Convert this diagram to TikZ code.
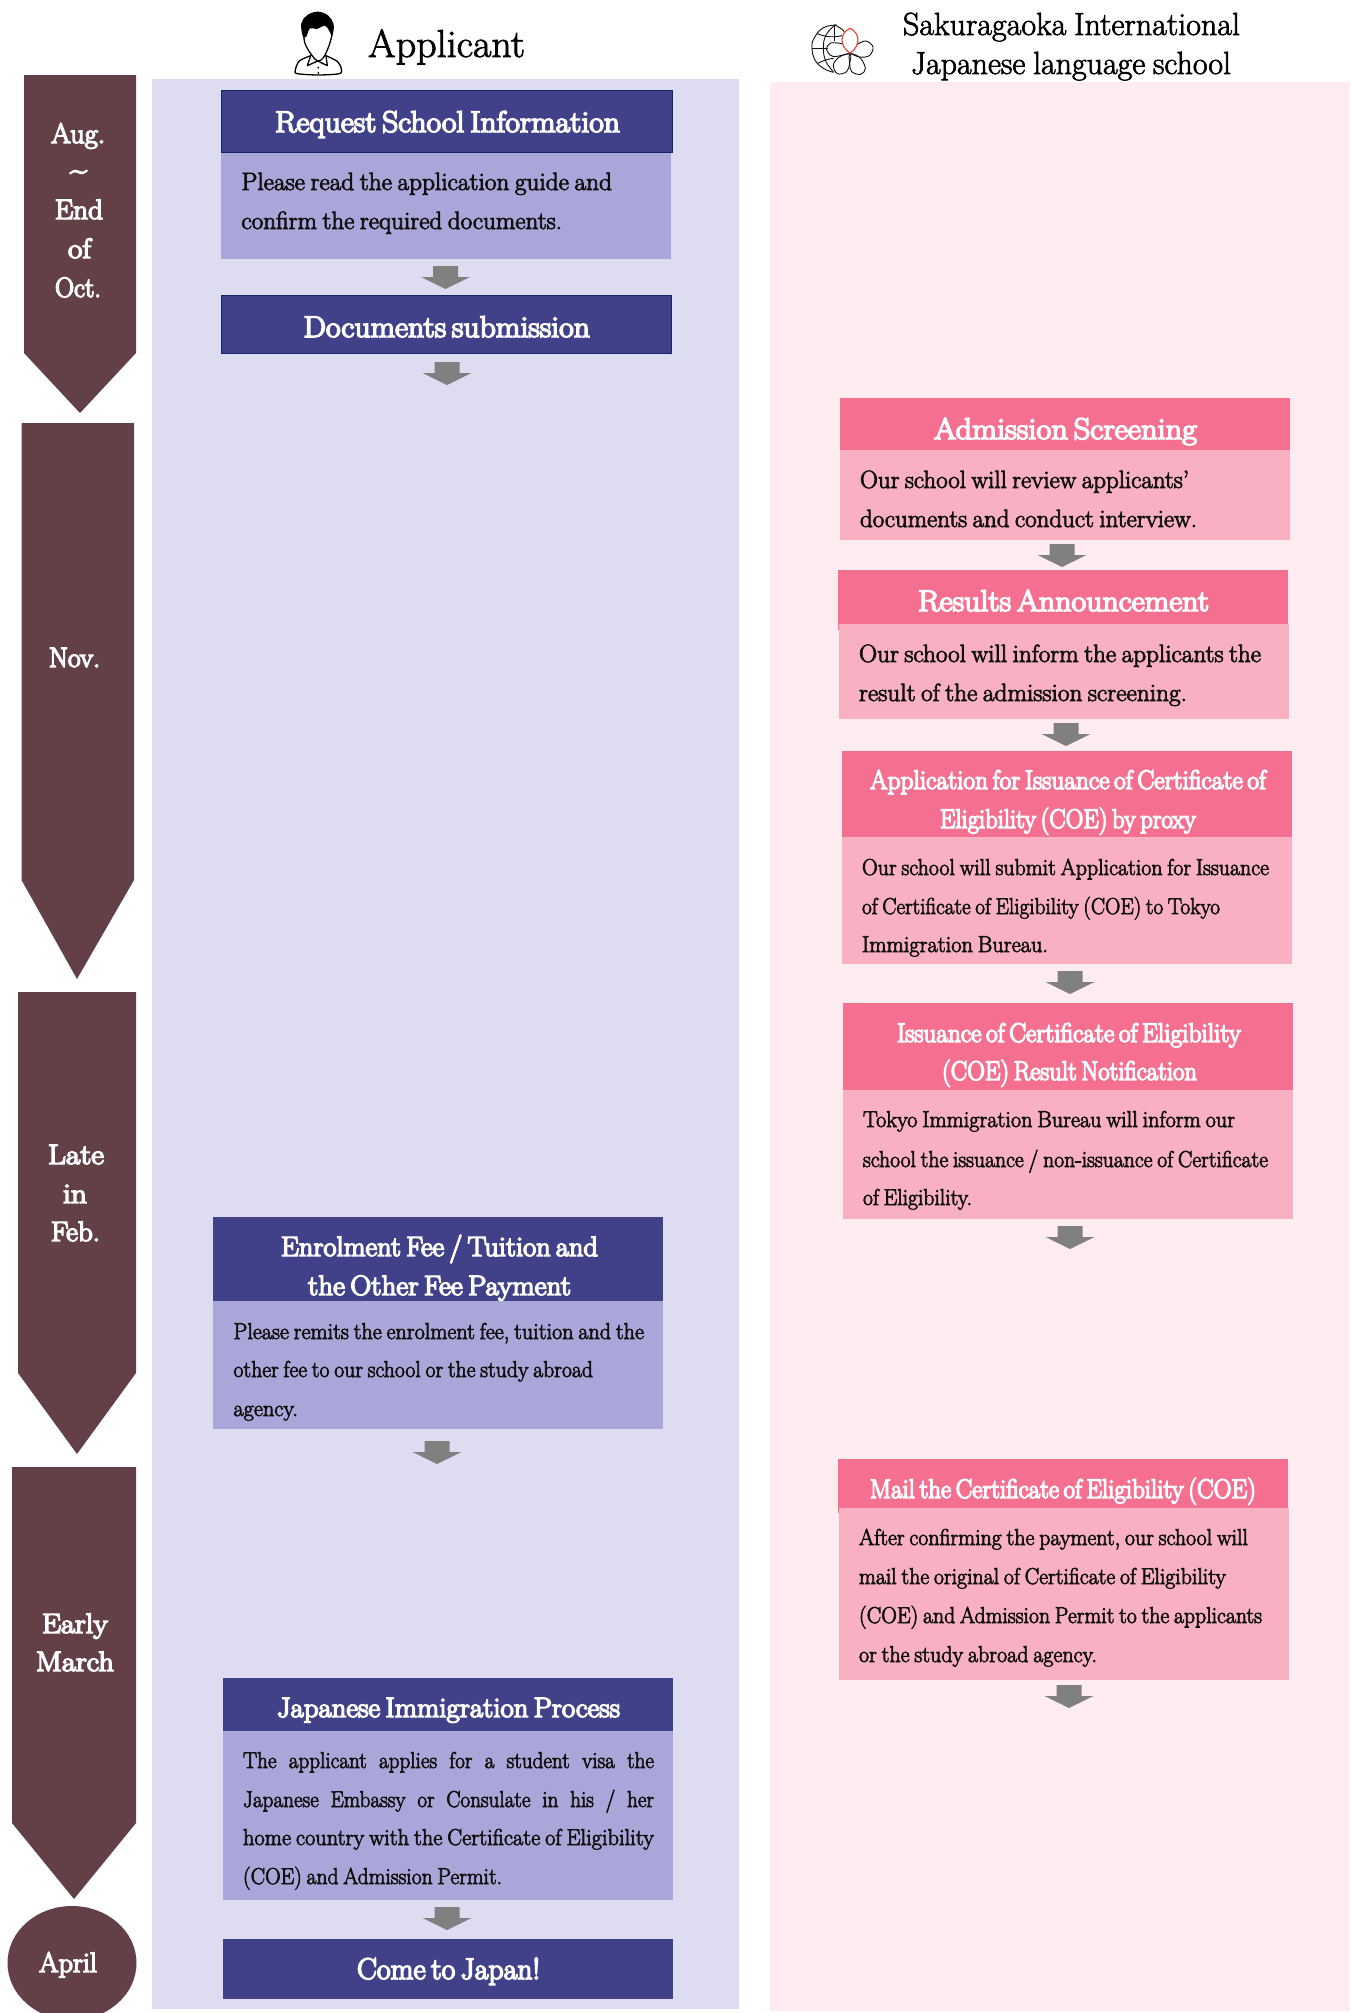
\documentclass[tikz,border=0pt]{standalone}
\usepackage{fontspec}
\usepackage{graphicx}
\newfontfamily\whitefont{Latin Modern Roman}[FakeBold=5,WordSpace=0.6]
\newfontfamily\bodyfont{Latin Modern Roman}[FakeBold=3,WordSpace=0.72]
\newfontfamily\titlefont{Latin Modern Roman}[FakeBold=2,WordSpace=0.8]
\definecolor{panelblue}{HTML}{DEDCF1}
\definecolor{panelpink}{HTML}{FFECF0}
\definecolor{headblue}{HTML}{41418A}
\definecolor{bodyblue}{HTML}{AAA6D9}
\definecolor{headpink}{HTML}{F57090}
\definecolor{bodypink}{HTML}{F9B0C3}
\definecolor{monthbrown}{HTML}{634048}
\definecolor{edgeblue}{HTML}{14246A}
\definecolor{inkdark}{HTML}{101010}
\definecolor{petalred}{HTML}{E8402F}
\tikzset{
  txtline/.style={anchor=base west,inner sep=0pt,outer sep=0pt},
  iconline/.style={draw=black,line width=1.3pt,line join=round,line cap=round},
  logoline/.style={draw=inkdark,line width=0.9pt,line join=round,line cap=round},
}
% name, x, baseline, width, size, font+colour, text
\newcommand{\txtline}[7]{\node[txtline] (#1) at (#2,#3) {\resizebox{#4pt}{\height}{#6\fontsize{#5}{#5}\selectfont #7}};}
\newcommand{\wline}[6]{\txtline{#1}{#2}{#3}{#4}{#5}{\whitefont\color{white}}{#6}}
\newcommand{\bline}[6]{\txtline{#1}{#2}{#3}{#4}{#5}{\bodyfont\color{inkdark}}{#6}}
\newcommand{\sline}[5]{\node[txtline] (#1) at (#2,#3) {\scalebox{0.92}[1]{\hbox to \dimexpr #4pt*100/92\relax{\bodyfont\color{inkdark}\fontsize{23}{23}\selectfont #5}}};}
\newcommand{\gap}{\hskip 0pt plus 1fil\relax}
\newcommand{\downblock}[2]{\fill[black!50] (#1-12.5,#2) -- (#1+12.5,#2) -- (#1+12.5,#2+11) -- (#1+24.5,#2+11) -- (#1,#2+23) -- (#1-24.5,#2+11) -- (#1-12.5,#2+11) -- cycle;}
\begin{document}
\begin{tikzpicture}[x=1pt,y=-1pt]
\clip (0,0) rectangle (1350,2013);
\fill[white] (0,0) rectangle (1350,2013);
% panels
\fill[panelblue] (152,79) rectangle (739,2009);
\fill[panelpink] (770,82) rectangle (1350,2011);
% month arrows
\fill[monthbrown] (24,75) -- (136,75) -- (136,353) -- (80,413) -- (24,353) -- cycle;
\fill[monthbrown] (21.5,423) -- (134,423) -- (134,880) -- (77,979) -- (21.5,880) -- cycle;
\fill[monthbrown] (18,992) -- (136,992) -- (136,1373) -- (77,1454) -- (18,1373) -- cycle;
\fill[monthbrown] (12,1467) -- (136,1467) -- (136,1823) -- (74,1899) -- (12,1823) -- cycle;
\fill[monthbrown] (72,1963) ellipse [x radius=64.5,y radius=57];
\wline{maug}{51}{143}{54}{28}{Aug.}
\wline{mtil}{70}{179}{17}{28}{\textasciitilde}
\wline{mend}{55}{219}{48}{28}{End}
\wline{mof}{68}{258}{23}{28}{of}
\wline{moct}{55}{297}{46}{28}{Oct.}
\wline{mnov}{49}{667}{51}{28}{Nov.}
\wline{mlate}{48}{1164}{56}{28}{Late}
\wline{min}{63}{1203}{24}{28}{in}
\wline{mfeb}{51}{1241}{49}{28}{Feb.}
\wline{mearly}{42}{1633}{66}{28}{Early}
\wline{mmarch}{36}{1671}{78}{28}{March}
\wline{mapril}{39}{1972}{58}{28}{April}
% column titles
\txtline{tapp}{368}{57}{157}{39}{\titlefont\color{black}}{Applicant}
\txtline{tsak}{903}{35}{337}{32}{\titlefont\color{black}}{Sakuragaoka International}
\txtline{tjap}{911}{74}{320}{32}{\titlefont\color{black}}{Japanese language school}
% person icon
\begin{scope}[shift={(270,5)},x=0.3333pt,y=-0.3333pt]
\fill[black] plot[smooth cycle,tension=0.6] coordinates {(98,92) (94,55) (112,30) (145,20) (175,32) (191,58) (187,92) (178,78) (165,62) (140,72) (120,70) (108,96)};
\draw[iconline] plot[smooth,tension=0.6] coordinates {(101,90) (106,118) (125,150) (143,168) (160,158) (176,125) (186,90)};
\draw[iconline] plot[smooth,tension=0.5] coordinates {(122,152) (88,168) (76,195) (82,206) (145,210) (208,206) (214,192) (203,170) (168,152)};
\draw[iconline] (122,152) -- (112,182) -- (143,168) -- (172,182) -- (168,152);
\fill[black] (145,188) circle [radius=3];
\fill[black] (145,204) circle [radius=3];
\end{scope}
% school logo
\begin{scope}[shift={(800,15)},x=0.3333pt,y=-0.3333pt]
\draw[logoline] plot[smooth,tension=0.7] coordinates {(110,30) (70,38) (42,70) (36,100) (45,135) (70,160) (100,172)};
\draw[logoline] plot[smooth,tension=0.7] coordinates {(105,30) (78,60) (70,100) (78,140) (100,170)};
\draw[logoline] (103,30) -- (103,78);
\draw[logoline] plot[smooth,tension=0.7] coordinates {(105,30) (125,42) (132,50)};
\draw[logoline] (36,100) -- (82,100);
\draw[logoline] (52,56) .. controls (75,66) and (100,68) .. (125,62);
\draw[logoline] (52,146) .. controls (70,136) and (85,132) .. (100,130);
\draw[logoline] plot[smooth,tension=0.6] coordinates {(172,88) (198,78) (219,96) (208,122) (178,126) (152,115)};
\draw[logoline] plot[smooth,tension=0.6] coordinates {(148,115) (130,120) (98,124) (80,104) (92,84) (126,86)};
\draw[logoline] plot[smooth cycle,tension=0.6] coordinates {(150,117) (118,126) (100,150) (112,176) (140,170) (149,145)};
\draw[logoline] plot[smooth cycle,tension=0.6] coordinates {(150,117) (180,128) (196,160) (182,178) (155,170) (149,145)};
\draw[draw=petalred,line width=1.1pt,line join=round] (150,40) .. controls (118,55) and (118,92) .. (150,115) .. controls (182,92) and (182,55) .. (150,40) -- cycle;
\end{scope}
% --- left column ---
\fill[bodyblue] (221,152) rectangle (671,259);
\draw[fill=headblue,draw=edgeblue,line width=0.8pt] (221,90.5) rectangle (672,152);
\wline{r1}{275}{132}{345}{30}{Request School Information}
\bline{r2}{241.5}{190}{370.5}{25}{Please read the application guide and}
\bline{r3}{241.5}{229}{320.5}{25}{confirm the required documents.}
\downblock{445.5}{266}
\draw[fill=headblue,draw=edgeblue,line width=0.8pt] (221,295.5) rectangle (671,353);
\wline{d1}{303.5}{337}{286.5}{30}{Documents submission}
\downblock{447}{362}
\fill[bodyblue] (213,1301) rectangle (663,1429);
\fill[headblue] (213,1217) rectangle (663,1301);
\wline{e1}{281}{1256}{317}{28}{Enrolment Fee / Tuition and}
\wline{e2}{308}{1295}{263}{28}{the Other Fee Payment}
\bline{e3}{233.5}{1339}{410.5}{23}{Please remits the enrolment fee, tuition and the}
\bline{e4}{233.5}{1377}{359.5}{23}{other fee to our school or the study abroad}
\bline{e5}{233.5}{1416}{64.5}{23}{agency.}
\downblock{437}{1441}
\fill[bodyblue] (223,1731) rectangle (673,1900);
\fill[headblue] (223,1678) rectangle (673,1731);
\wline{j1}{277}{1717}{343}{28}{Japanese Immigration Process}
\sline{j2}{243}{1768}{411}{The\gap applicant\gap applies\gap for\gap a\gap student\gap visa\gap the}
\sline{j3}{243}{1807}{411}{Japanese\gap Embassy\gap or\gap Consulate\gap in\gap his\gap /\gap her}
\bline{j4}{243}{1845}{411}{23}{home country with the Certificate of Eligibility}
\bline{j5}{243}{1884}{259}{23}{(COE) and Admission Permit.}
\downblock{447}{1907}
\fill[headblue] (223,1939) rectangle (673,1999);
\wline{c1}{357}{1979}{183}{30}{Come to Japan!}
% --- right column ---
\fill[bodypink] (840,450) rectangle (1290,540);
\fill[headpink] (840,398) rectangle (1290,450);
\wline{a1}{934}{439}{263}{30}{Admission Screening}
\bline{a2}{860}{488}{329}{25}{Our school will review applicants’}
\bline{a3}{860}{527}{337}{25}{documents and conduct interview.}
\downblock{1062}{544}
\fill[headpink] (838,570) rectangle (1288,630);
\fill[bodypink] (839,624) rectangle (1289,719);
\wline{s1}{918}{611}{291}{30}{Results Announcement}
\bline{s2}{859}{662}{402}{25}{Our school will inform the applicants the}
\bline{s3}{859}{701}{328}{25}{result of the admission screening.}
\downblock{1066}{723}
\fill[bodypink] (842,837) rectangle (1292,964);
\fill[headpink] (842,751) rectangle (1292,837);
\wline{p1}{870}{789}{396}{27}{Application for Issuance of Certificate of}
\wline{p2}{940}{828}{256}{27}{Eligibility (COE) by proxy}
\bline{p3}{862}{875}{407}{23}{Our school will submit Application for Issuance}
\bline{p4}{862}{914}{358}{23}{of Certificate of Eligibility (COE) to Tokyo}
\bline{p5}{862}{952}{186}{23}{Immigration Bureau.}
\downblock{1070}{971}
\fill[bodypink] (843,1090) rectangle (1293,1219);
\fill[headpink] (843,1003) rectangle (1293,1090);
\wline{i1}{897}{1042}{344}{27}{Issuance of Certificate of Eligibility}
\wline{i2}{942}{1080}{255}{27}{(COE) Result Notification}
\bline{i3}{863}{1127}{372}{23}{Tokyo Immigration Bureau will inform our}
\bline{i4}{863}{1167}{405}{23}{school the issuance / non-issuance of Certificate}
\bline{i5}{863}{1205}{109}{23}{of Eligibility.}
\downblock{1070}{1226}
\fill[headpink] (838,1459) rectangle (1288,1513);
\fill[bodypink] (839,1508) rectangle (1289,1680);
\wline{m1}{870}{1498}{386}{27}{Mail the Certificate of Eligibility (COE)}
\bline{m2}{859}{1545}{389}{23}{After confirming the payment, our school will}
\bline{m3}{859}{1584}{367}{23}{mail the original of Certificate of Eligibility}
\bline{m4}{859}{1623}{403}{23}{(COE) and Admission Permit to the applicants}
\bline{m5}{859}{1662}{238}{23}{or the study abroad agency.}
\downblock{1069}{1685}
\end{tikzpicture}
\end{document}
